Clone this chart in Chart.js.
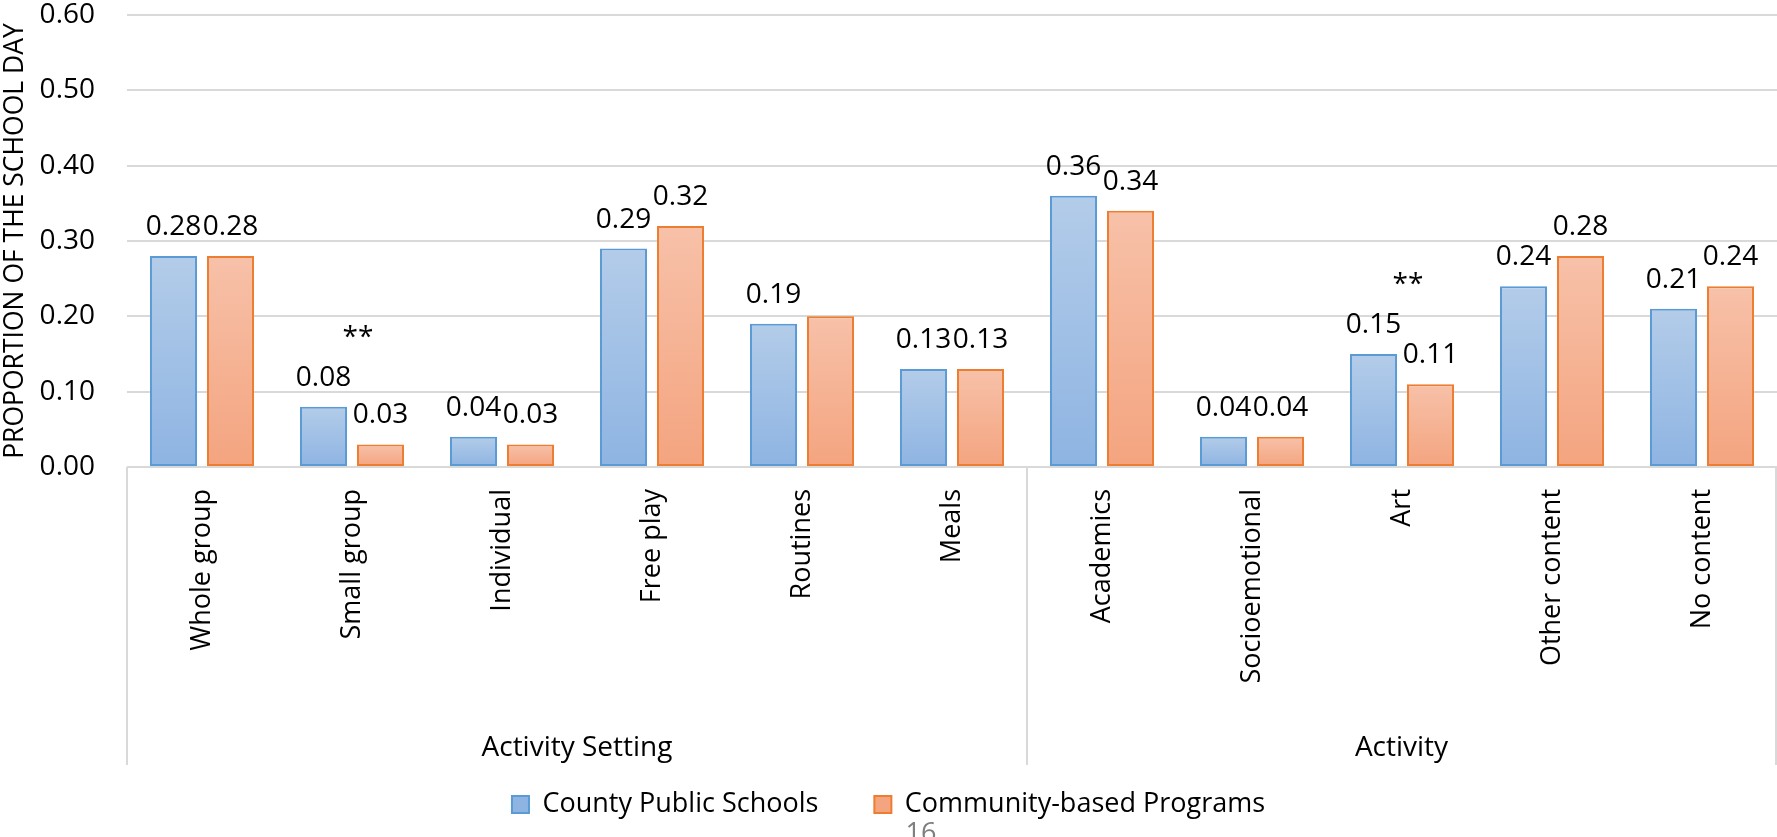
<!DOCTYPE html>
<html>
<head>
<meta charset="utf-8">
<script src="https://cdn.jsdelivr.net/npm/chart.js@4/dist/chart.umd.min.js"></script>
<style>
  html, body { margin: 0; padding: 0; background: #fff; }
</style>
</head>
<body>
<canvas id="schoolDay" width="1777" height="837"></canvas>
<script>
const categories = ['Whole group', 'Small group', 'Individual', 'Free play', 'Routines', 'Meals',
  'Academics', 'Socioemotional', 'Art', 'Other content', 'No content'];
const groupNames = ['Activity Setting', 'Activity'];
const groupSizes = [6, 5];

const countyPublic = [0.28, 0.08, 0.04, 0.29, 0.19, 0.13, 0.36, 0.04, 0.15, 0.24, 0.21];
const communityBased = [0.28, 0.03, 0.03, 0.32, 0.20, 0.13, 0.34, 0.04, 0.11, 0.28, 0.24];
const communityLabelShown = [true, true, true, true, false, true, true, true, true, true, true];
const significance = ['', '**', '', '', '', '', '', '', '**', '', ''];

const FONT = "'Open Sans', 'DejaVu Sans', sans-serif";
const GRID = '#d9d9d9';

function barFill(top, bottom, solid) {
  return function (c) {
    if (c.type !== 'data') return solid;
    const chart = c.chart;
    if (!chart.chartArea) return solid;
    const y0 = chart.scales.y.getPixelForValue(c.raw);
    const y1 = chart.scales.y.getPixelForValue(0);
    const g = chart.ctx.createLinearGradient(0, y0, 0, y1);
    g.addColorStop(0, top);
    g.addColorStop(1, bottom);
    return g;
  };
}

// value labels, significance marks and the two-level category axis
const extras = {
  id: 'extras',
  afterDraw(chart) {
    const ctx = chart.ctx;
    const x = chart.scales.x;
    const y = chart.scales.y;
    const area = chart.chartArea;
    ctx.save();
    ctx.font = '28px ' + FONT;
    ctx.fillStyle = '#000';
    ctx.textAlign = 'center';
    ctx.textBaseline = 'alphabetic';

    chart.data.datasets.forEach((ds, di) => {
      chart.getDatasetMeta(di).data.forEach((bar, i) => {
        if (di === 1 && !communityLabelShown[i]) return;
        ctx.fillText(ds.data[i].toFixed(2), bar.x, bar.y - 21);
      });
    });

    significance.forEach((mark, i) => {
      if (!mark) return;
      const top = y.getPixelForValue(Math.max(countyPublic[i], communityBased[i]));
      ctx.fillText(mark, x.getPixelForValue(i) + 6, top - 61);
    });

    // group dividers and names under the category labels
    const axisBottom = area.bottom + 298;
    const edges = [area.left];
    let start = 0;
    groupSizes.forEach((n) => {
      const end = start + n - 1;
      const right = end === categories.length - 1
        ? area.right - 1
        : (x.getPixelForValue(end) + x.getPixelForValue(end + 1)) / 2;
      edges.push(right);
      start += n;
    });
    ctx.strokeStyle = GRID;
    ctx.lineWidth = 2;
    edges.forEach((ex) => {
      ctx.beginPath();
      ctx.moveTo(ex, area.bottom);
      ctx.lineTo(ex, axisBottom);
      ctx.stroke();
    });
    ctx.textBaseline = 'middle';
    groupNames.forEach((name, g) => {
      ctx.fillText(name, (edges[g] + edges[g + 1]) / 2, area.bottom + 281);
    });

    // page number at the foot
    ctx.font = '27px ' + FONT;
    ctx.fillStyle = '#7f7f7f';
    ctx.textBaseline = 'alphabetic';
    ctx.fillText('16', 921, 842);
    ctx.restore();
  }
};

const chart = new Chart(document.getElementById('schoolDay'), {
  type: 'bar',
  data: {
    labels: categories,
    datasets: [
      {
        label: 'County Public Schools',
        data: countyPublic,
        backgroundColor: barFill('#b3cce9', '#8eb4e2', '#a2c0e6'),
        borderColor: '#5b9bd5',
        borderWidth: 2,
        borderSkipped: false,
        barPercentage: 0.825,
        categoryPercentage: 0.76
      },
      {
        label: 'Community-based Programs',
        data: communityBased,
        backgroundColor: barFill('#f7c1a9', '#f4a47f', '#f6b394'),
        borderColor: '#ed7d31',
        borderWidth: 2,
        borderSkipped: false,
        barPercentage: 0.825,
        categoryPercentage: 0.76
      }
    ]
  },
  options: {
    responsive: false,
    animation: false,
    devicePixelRatio: 1,
    layout: { padding: { top: 15, left: 0, right: 0, bottom: 9 } },
    plugins: {
      tooltip: { enabled: false },
      legend: {
        position: 'bottom',
        labels: {
          boxWidth: 17,
          boxHeight: 17,
          padding: 56,
          color: '#000',
          font: { family: FONT, size: 27 }
        }
      }
    },
    scales: {
      x: {
        grid: { display: false, drawTicks: false },
        border: { display: false },
        ticks: {
          autoSkip: false,
          minRotation: 90,
          maxRotation: 90,
          padding: 22,
          color: '#000',
          font: { family: FONT, size: 27 }
        },
        afterFit(scale) { scale.height = 268; }
      },
      y: {
        min: 0,
        max: 0.6,
        grid: { color: GRID, lineWidth: 2, drawTicks: false },
        border: { display: false },
        ticks: {
          stepSize: 0.1,
          padding: 32,
          color: '#000',
          font: { family: FONT, size: 28 },
          callback: (v) => v.toFixed(2)
        },
        title: {
          display: true,
          text: 'PROPORTION OF THE SCHOOL DAY',
          color: '#000',
          padding: 0,
          font: { family: FONT, size: 26.5 }
        },
        afterFit(scale) {
          scale.width = 127;
          scale.paddingTop = 15;
          scale.paddingBottom = 0;
        }
      }
    }
  },
  plugins: [extras]
});
</script>
</body>
</html>
